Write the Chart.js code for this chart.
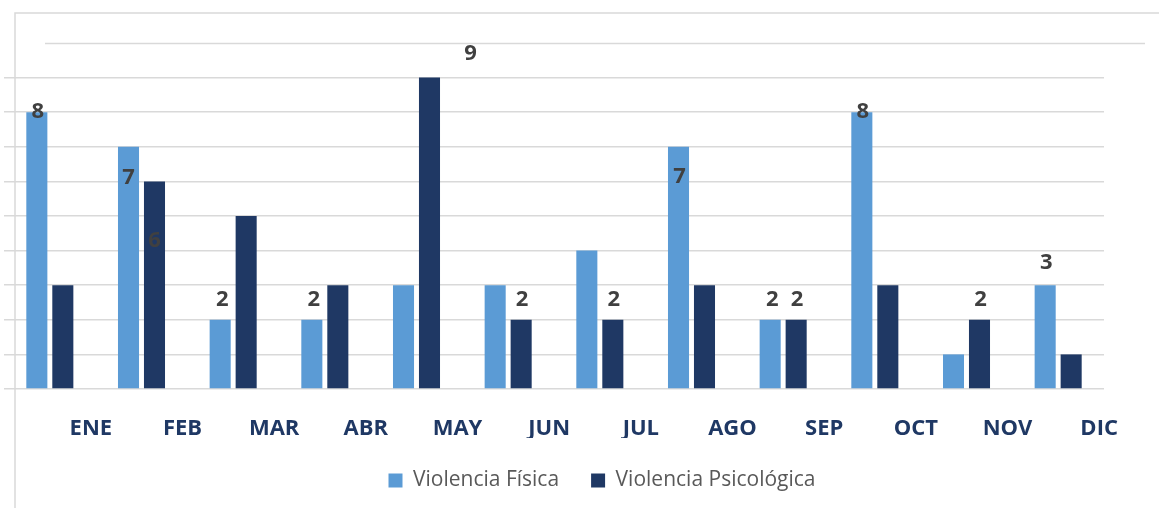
<!DOCTYPE html>
<html>
<head>
<meta charset="utf-8">
<script src="https://cdn.jsdelivr.net/npm/chart.js@4.4.1/dist/chart.umd.min.js"></script>
<style>
  html, body { margin: 0; padding: 0; background: #fff; }
  #wrap { width: 1159px; height: 508px; position: relative; }
</style>
</head>
<body>
<div id="wrap"><canvas id="chart"></canvas></div>
<script>
const months = ['ENE', 'FEB', 'MAR', 'ABR', 'MAY', 'JUN', 'JUL', 'AGO', 'SEP', 'OCT', 'NOV', 'DIC'];
const fisica = [8, 7, 2, 2, 3, 3, 4, 7, 2, 8, 1, 3];
const psicologica = [3, 6, 5, 3, 9, 2, 2, 3, 2, 3, 2, 1];
const seriesNames = ['Violencia Física', 'Violencia Psicológica'];

// which bars carry a value label, and where it sits relative to the bar top
// [datasetIndex, monthIndex, dx, dy]
const labelSpots = [
  [0, 0, 1, 0], [0, 1, 0, 31], [1, 1, 0, 59], [0, 2, 2, -20], [0, 3, 2, -20],
  [1, 4, 41, -24], [1, 5, 1, -20], [1, 6, 1, -20], [0, 7, 1, 30],
  [0, 8, 2, -20], [1, 8, 1, -20], [0, 9, 1, 0], [1, 10, 1, -20], [0, 11, 1, -22]
];

const frameColor = '#d9d9d9';

// Excel-ish leftovers: cropped chart frame and the shifted top gridline
const framePlugin = {
  id: 'frame',
  afterLayout(chart) {
    // legend in the original sits off-centre, to the right
    if (chart.legend) {
      chart.legend.left += 48;
      chart.legend.right += 48;
    }
  },
  beforeDatasetsDraw(chart) {
    const { ctx, chartArea, scales } = chart;
    ctx.save();
    ctx.strokeStyle = frameColor;
    ctx.lineWidth = 1.5;
    ctx.beginPath();
    ctx.moveTo(15, chart.height);
    ctx.lineTo(15, 13);
    ctx.lineTo(chart.width, 13);
    ctx.stroke();
    const y10 = Math.round(scales.y.getPixelForValue(10)) + 0.5;
    ctx.beginPath();
    ctx.moveTo(chartArea.left + 41, y10);
    ctx.lineTo(chartArea.right + 41, y10);
    ctx.stroke();
    ctx.restore();
  }
};

const valueLabels = {
  id: 'valueLabels',
  afterDatasetsDraw(chart) {
    const { ctx } = chart;
    ctx.save();
    ctx.font = 'bold 22px "Open Sans"';
    ctx.fillStyle = '#404040';
    ctx.textAlign = 'center';
    ctx.textBaseline = 'middle';
    labelSpots.forEach(([ds, i, dx, dy]) => {
      const bar = chart.getDatasetMeta(ds).data[i];
      const v = chart.data.datasets[ds].data[i];
      ctx.fillText(String(v), bar.x + dx, bar.y + dy);
    });
    ctx.restore();
  }
};

new Chart(document.getElementById('chart'), {
  type: 'bar',
  data: {
    labels: months,
    datasets: [
      { label: seriesNames[0], data: fisica, backgroundColor: '#5b9bd5' },
      { label: seriesNames[1], data: psicologica, backgroundColor: '#1f3864' }
    ]
  },
  options: {
    responsive: true,
    maintainAspectRatio: false,
    animation: false,
    events: [],
    categoryPercentage: 0.567,
    barPercentage: 0.81,
    layout: { padding: { left: 4, right: 55, top: 43, bottom: 7 } },
    scales: {
      x: {
        grid: { display: true, color: 'rgba(0,0,0,0)', drawOnChartArea: false, drawTicks: true, tickLength: 10 },
        border: { display: false },
        ticks: {
          color: '#1f3864',
          font: { family: 'Open Sans', size: 22, weight: 'bold' },
          labelOffset: 41,
          padding: 17,
          maxRotation: 0,
          autoSkip: false
        },
        afterFit(scale) { scale.height = 49; }
      },
      y: {
        min: 0,
        max: 10,
        ticks: { display: false, stepSize: 1 },
        border: { display: false },
        grid: {
          drawTicks: false,
          lineWidth: 1.5,
          color: (c) => c.tick && c.tick.value === 10 ? 'rgba(0,0,0,0)' : frameColor
        }
      }
    },
    plugins: {
      legend: {
        position: 'bottom',
        labels: {
          color: '#595959',
          font: { family: 'Open Sans', size: 21 },
          boxWidth: 14,
          boxHeight: 14,
          padding: 32
        }
      },
      tooltip: { enabled: false }
    }
  },
  plugins: [framePlugin, valueLabels]
});
</script>
</body>
</html>
